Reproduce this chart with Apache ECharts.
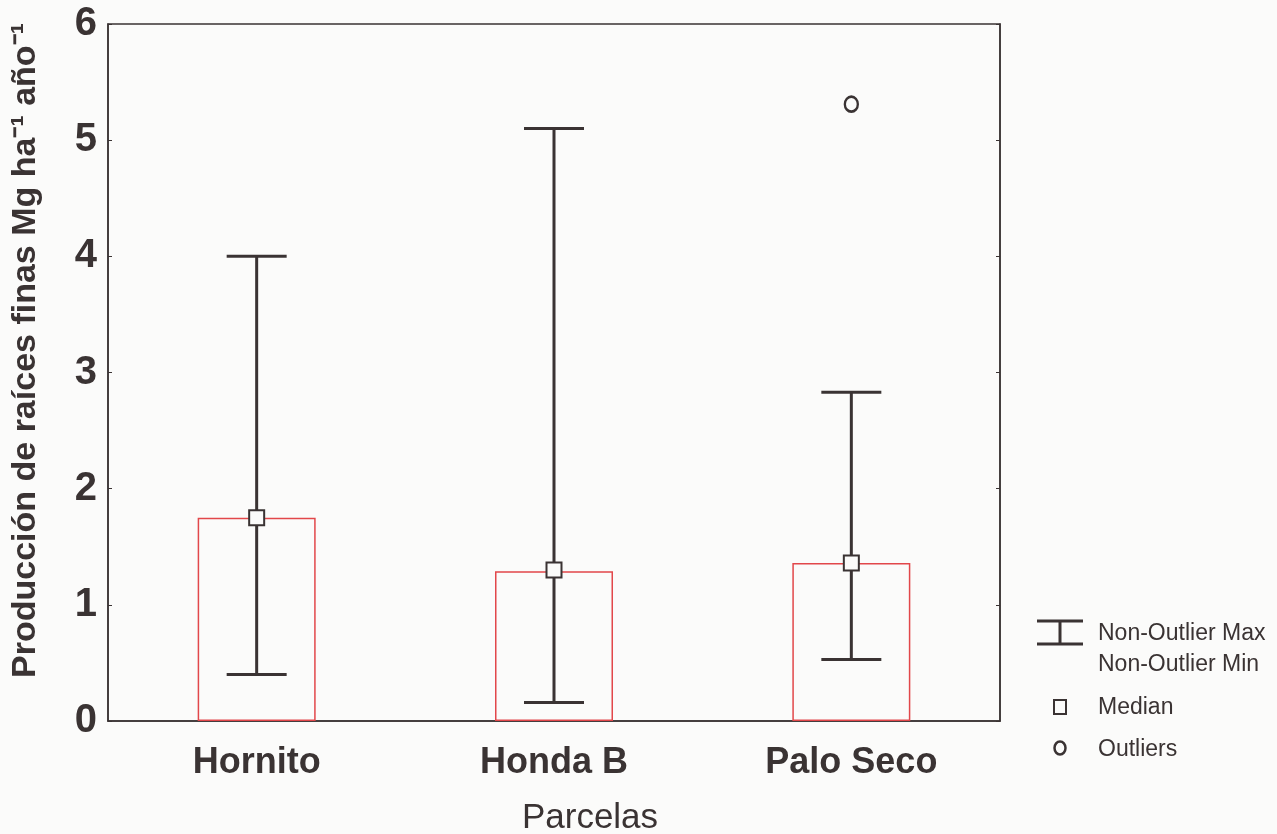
<!DOCTYPE html>
<html>
<head>
<meta charset="utf-8">
<style>
  html, body { margin: 0; padding: 0; background: #fbfbfa; }
  #chart { width: 1277px; height: 834px; }
</style>
<script src="https://cdn.jsdelivr.net/npm/echarts@6/dist/echarts.min.js"></script>
</head>
<body>
<div id="chart"></div>
<script>
// Fine-root production per plot (Mg ha-1 yr-1)
const categories = ['Hornito', 'Honda B', 'Palo Seco'];
const barValues = [1.75, 1.29, 1.36];
const medians = [1.75, 1.30, 1.36];
const whiskerMin = [0.40, 0.16, 0.53];
const whiskerMax = [4.00, 5.10, 2.83];
const outliers = [[2, 5.31]];
const yTicks = [0, 1, 2, 3, 4, 5, 6];

const ink = '#3a3333';
const narrow = '"Liberation Sans Narrow", "Arial Narrow", "Liberation Sans", Arial, sans-serif';
const keyFont = '23px ' + narrow;

const chart = echarts.init(document.getElementById('chart'));

const whiskerData = categories.map((c, i) => [i, whiskerMin[i], whiskerMax[i]]);

chart.setOption({
  backgroundColor: '#fbfbfa',
  animation: false,
  grid: {
    left: 108, right: 277, top: 24, bottom: 113,
    containLabel: false,
    outerBoundsMode: 'none',
    show: true, borderColor: ink, borderWidth: 1.5, backgroundColor: 'transparent'
  },
  xAxis: {
    type: 'category',
    data: categories,
    boundaryGap: true,
    axisLine: { lineStyle: { color: ink, width: 1.5 } },
    axisTick: { inside: true, length: 5, lineStyle: { color: ink } },
    axisLabel: {
      color: ink, fontFamily: narrow, fontWeight: 'bold', fontSize: 36, margin: 24
    },
    name: 'Parcelas',
    nameLocation: 'middle',
    nameGap: 80,
    nameTextStyle: { color: ink, fontFamily: narrow, fontSize: 35, padding: [0, 0, 0, 72] }
  },
  yAxis: [{
    type: 'value',
    min: yTicks[0], max: yTicks[yTicks.length - 1], interval: 1,
    splitLine: { show: false },
    axisLine: { show: true, lineStyle: { color: ink, width: 1.5 } },
    axisTick: { show: true, inside: true, length: 4, lineStyle: { color: ink } },
    axisLabel: {
      color: ink, fontFamily: narrow, fontWeight: 'bold', fontSize: 40, margin: 11
    },
    name: 'Producción de raíces finas Mg ha⁻¹ año⁻¹',
    nameLocation: 'middle',
    nameGap: 65,
    nameTextStyle: {
      color: ink, fontFamily: narrow, fontWeight: 'bold', fontSize: 34,
      padding: [0, 0, 0, 44]
    }
  }, {
    type: 'value',
    position: 'right',
    min: yTicks[0], max: yTicks[yTicks.length - 1], interval: 1,
    splitLine: { show: false },
    axisLine: { show: true, lineStyle: { color: ink, width: 1.5 } },
    axisTick: { show: true, inside: true, length: 4, lineStyle: { color: ink } },
    axisLabel: { show: false }
  }],
  series: [{
    name: 'Caja',
    type: 'bar',
    data: barValues,
    barWidth: 118,
    itemStyle: { color: 'rgba(0,0,0,0)', borderColor: '#e2474a', borderWidth: 1.5 },
    z: 2
  }, {
    name: 'Non-Outlier Max\nNon-Outlier Min',
    type: 'custom',
    data: whiskerData,
    z: 3,
    renderItem: function (params, api) {
      const x = api.value(0);
      const lo = api.coord([x, api.value(1)]);
      const hi = api.coord([x, api.value(2)]);
      const half = 30;
      const style = { stroke: ink, lineWidth: 3, fill: null };
      return {
        type: 'group',
        children: [
          { type: 'line', shape: { x1: lo[0], y1: lo[1], x2: hi[0], y2: hi[1] }, style },
          { type: 'line', shape: { x1: hi[0] - half, y1: hi[1], x2: hi[0] + half, y2: hi[1] }, style },
          { type: 'line', shape: { x1: lo[0] - half, y1: lo[1], x2: lo[0] + half, y2: lo[1] }, style }
        ]
      };
    }
  }, {
    name: 'Median',
    type: 'scatter',
    data: medians,
    symbol: 'rect',
    symbolSize: 15,
    itemStyle: { color: '#fbfbfa', borderColor: ink, borderWidth: 2, opacity: 1 },
    z: 4
  }, {
    name: 'Outliers',
    type: 'scatter',
    data: outliers,
    symbol: 'circle',
    symbolSize: [13, 15],
    itemStyle: { color: 'rgba(0,0,0,0)', borderColor: ink, borderWidth: 2.5, opacity: 1 },
    z: 4
  }],
  graphic: [
    // whisker key
    { type: 'line', shape: { x1: 1037, y1: 621, x2: 1083, y2: 621 }, style: { stroke: ink, lineWidth: 3 } },
    { type: 'line', shape: { x1: 1060, y1: 621, x2: 1060, y2: 644 }, style: { stroke: ink, lineWidth: 3 } },
    { type: 'line', shape: { x1: 1037, y1: 644, x2: 1083, y2: 644 }, style: { stroke: ink, lineWidth: 3 } },
    { type: 'text', x: 1098, y: 634, style: { text: 'Non-Outlier Max', fill: ink, font: keyFont, textVerticalAlign: 'middle' } },
    { type: 'text', x: 1098, y: 665, style: { text: 'Non-Outlier Min', fill: ink, font: keyFont, textVerticalAlign: 'middle' } },
    // median key
    { type: 'rect', shape: { x: 1054, y: 700, width: 12, height: 14 }, style: { stroke: ink, lineWidth: 2, fill: 'none' } },
    { type: 'text', x: 1098, y: 708, style: { text: 'Median', fill: ink, font: keyFont, textVerticalAlign: 'middle' } },
    // outlier key
    { type: 'ellipse', shape: { cx: 1060, cy: 748, rx: 5.5, ry: 6.5 }, style: { stroke: ink, lineWidth: 2.5, fill: 'none' } },
    { type: 'text', x: 1098, y: 750, style: { text: 'Outliers', fill: ink, font: keyFont, textVerticalAlign: 'middle' } }
  ]
});
</script>
</body>
</html>
